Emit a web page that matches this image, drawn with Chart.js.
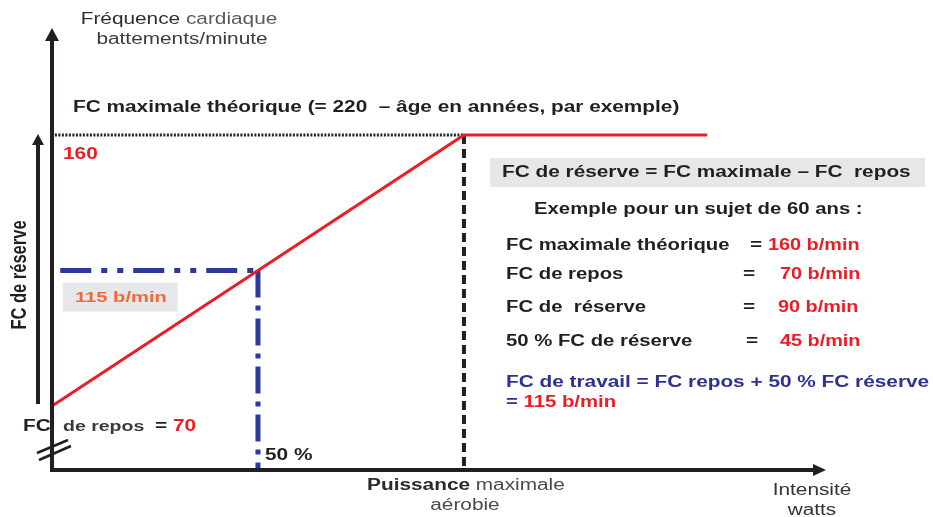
<!DOCTYPE html>
<html lang="fr">
<head>
<meta charset="utf-8">
<title>Fréquence cardiaque de travail</title>
<script src="https://cdn.jsdelivr.net/npm/chart.js@4/dist/chart.umd.min.js"></script>
<style>
  html, body { margin: 0; padding: 0; background: #ffffff; }
  #wrap { width: 933px; height: 517px; }
</style>
</head>
<body>
<div id="wrap"><canvas id="c" width="933" height="517"></canvas></div>
<script>
// Intensité d'effort (% de la puissance maximale aérobie) et fréquence cardiaque (b/min)
const intensite = [0, 100, 159];
const frequence = [70, 160, 160];

// Repères de l'exemple (sujet de 60 ans)
const fcRepos = 70;
const fcMax = 160;
const fcTravail = 115;
const pctReserve = 50;
const pma = 100;

// Tableau de l'exemple
const exempleLibelles = ['FC maximale théorique', 'FC de repos', 'FC de  réserve', '50 % FC de réserve'];
const exempleValeurs = [160, 70, 90, 45];

// Bornes des axes (l'axe vertical est interrompu sous la FC de repos)
const xMin = 0, xMax = 187.4;
const yMin = 48.75, yMax = 194.9;

const RED = '#ec1c24';
const BLUE = '#2b3a9a';
const BLUE_TXT = '#2e3192';
const INK = '#231f20';
const SX = 1.3; // étirement horizontal du lettrage
const F = '"Liberation Sans", Arial, Helvetica, sans-serif';

function pts(xs, ys) { return xs.map((x, i) => ({ x, y: ys[i] })); }

function drawText(ctx, s, x, y, font, color, align, sx) {
  sx = sx || SX;
  ctx.save();
  ctx.font = font;
  ctx.fillStyle = color;
  ctx.textBaseline = 'middle';
  ctx.textAlign = 'left';
  const w = ctx.measureText(s).width * sx;
  let x0 = x;
  if (align === 'center') x0 = x - w / 2;
  else if (align === 'right') x0 = x - w;
  ctx.translate(x0, y);
  ctx.scale(sx, 1);
  ctx.fillText(s, 0, 0);
  ctx.restore();
  return x0 + w;
}

function drawRuns(ctx, runs, x, y, align, sx) {
  sx = sx || SX;
  let total = 0;
  runs.forEach(r => { ctx.font = r[1]; total += ctx.measureText(r[0]).width * sx; });
  let cx = align === 'center' ? x - total / 2 : x;
  runs.forEach(r => { cx = drawText(ctx, r[0], cx, y, r[1], r[2], 'left', sx); });
}

function arrowHead(ctx, tipX, tipY, dir, len, half) {
  ctx.beginPath();
  if (dir === 'up') {
    ctx.moveTo(tipX, tipY);
    ctx.lineTo(tipX - half, tipY + len);
    ctx.lineTo(tipX + half, tipY + len);
  } else {
    ctx.moveTo(tipX, tipY);
    ctx.lineTo(tipX - len, tipY - half);
    ctx.lineTo(tipX - len, tipY + half);
  }
  ctx.closePath();
  ctx.fill();
}

const schema = {
  id: 'schema',
  beforeDatasetsDraw(chart) {
    const ctx = chart.ctx;
    const sx = chart.scales.x, sy = chart.scales.y;
    ctx.save();
    ctx.fillStyle = '#e6e7e8';
    // encadré de la FC de travail, sous la ligne de 115 b/min
    const yT = sy.getPixelForValue(fcTravail);
    ctx.fillRect(sx.getPixelForValue(2.6), yT + 12, 115, 29);
    // encadré de la définition de la réserve
    ctx.fillRect(490, 158, 435, 29);
    ctx.restore();
  },
  afterDraw(chart) {
    const ctx = chart.ctx;
    const sx = chart.scales.x, sy = chart.scales.y;
    const a = chart.chartArea;
    const x0 = sx.getPixelForValue(0);
    const yBase = sy.getPixelForValue(yMin);

    ctx.save();
    ctx.strokeStyle = INK;
    ctx.fillStyle = INK;
    ctx.lineCap = 'butt';

    // axe vertical (fréquence cardiaque)
    ctx.lineWidth = 4;
    ctx.beginPath();
    ctx.moveTo(x0, yBase + 2);
    ctx.lineTo(x0, a.top + 10);
    ctx.stroke();
    arrowHead(ctx, x0, a.top - 2, 'up', 13, 7);

    // axe horizontal (intensité)
    ctx.beginPath();
    ctx.moveTo(x0 - 2, yBase);
    ctx.lineTo(a.right - 10, yBase);
    ctx.stroke();
    arrowHead(ctx, a.right + 2, yBase, 'right', 13, 6);

    // flèche de la FC de réserve, de la FC de repos à la FC maximale
    const xr = x0 - 14;
    ctx.lineWidth = 4;
    ctx.beginPath();
    ctx.moveTo(xr, sy.getPixelForValue(fcRepos) - 2);
    ctx.lineTo(xr, sy.getPixelForValue(fcMax) + 10);
    ctx.stroke();
    arrowHead(ctx, xr, sy.getPixelForValue(fcMax) - 1, 'up', 11, 6);

    // marque d'interruption de l'axe vertical
    ctx.lineWidth = 2.5;
    ctx.beginPath();
    ctx.moveTo(x0 - 15, 453); ctx.lineTo(x0 + 16, 440);
    ctx.moveTo(x0 - 13, 460); ctx.lineTo(x0 + 19, 446);
    ctx.stroke();
    ctx.restore();

    // textes des axes
    const B16 = 'bold 16px ' + F, R16 = '16px ' + F;
    drawRuns(ctx, [['Fréquence ', R16, '#2e2e2e'], ['cardiaque', R16, '#5a5a5a']], 179, 20, 'center');
    drawText(ctx, 'battements/minute', 182, 40, R16, '#3c3c3c', 'center');
    drawText(ctx, 'FC maximale théorique (= 220  – âge en années, par exemple)', 73, 108, B16, INK);
    drawText(ctx, String(fcMax), 63, sy.getPixelForValue(fcMax) + 20, B16, RED);

    // titre vertical de la réserve
    ctx.save();
    ctx.font = 'bold 16.5px ' + F;
    ctx.fillStyle = INK;
    ctx.textAlign = 'center';
    ctx.textBaseline = 'middle';
    ctx.translate(20, 275);
    ctx.scale(SX, 1);
    ctx.rotate(-Math.PI / 2);
    ctx.fillText('FC de réserve', 0, 0);
    ctx.restore();

    drawText(ctx, fcTravail + ' b/min', 75, sy.getPixelForValue(fcTravail) + 27, 'bold 15.5px ' + F, '#ee6a3c');

    const yRep = sy.getPixelForValue(fcRepos) + 21;
    drawText(ctx, 'FC', 23, yRep, B16, INK);
    drawText(ctx, 'de repos', 63, yRep, 'bold 15px ' + F, '#3a3a3a');
    drawText(ctx, '=', 155, yRep, B16, INK);
    drawText(ctx, String(fcRepos), 173, yRep, B16, RED);

    drawText(ctx, pctReserve + ' %', sx.getPixelForValue(pctReserve) + 7, 456, B16, INK);

    const xP = sx.getPixelForValue(pma);
    drawRuns(ctx, [['Puissance ', B16, '#2a2a2a'], ['maximale', R16, '#4a4a4a']], xP + 2, 486, 'center');
    drawText(ctx, 'aérobie', xP + 1, 506, R16, '#4a4a4a', 'center');
    drawText(ctx, 'Intensité', 812, 491, R16, '#333333', 'center');
    drawText(ctx, 'watts', 812, 511, R16, '#333333', 'center');

    // encadré de droite : définition et exemple
    drawText(ctx, 'FC de réserve = FC maximale – FC  repos', 502, 173, B16, INK);
    drawText(ctx, 'Exemple pour un sujet de 60 ans :', 534, 210, B16, INK, 'left', 1.27);
    const rowsY = [246, 275, 308, 342];
    const eqX = [750, 743, 743, 746];
    const valX = [768, 780, 778, 780];
    exempleLibelles.forEach((lib, i) => {
      drawText(ctx, lib, 506, rowsY[i], B16, INK, 'left', 1.27);
      drawText(ctx, '=', eqX[i], rowsY[i], B16, INK);
      drawText(ctx, exempleValeurs[i] + ' b/min', valX[i], rowsY[i], B16, RED, 'left', 1.24);
    });
    drawText(ctx, 'FC de travail = FC repos + 50 % FC réserve', 506, 383, B16, BLUE_TXT);
    drawRuns(ctx, [['= ', B16, BLUE_TXT], [fcTravail + ' b/min', B16, RED]], 506, 403, 'left', 1.27);
  }
};

new Chart(document.getElementById('c'), {
  type: 'line',
  data: {
    datasets: [
      {
        label: 'Fréquence cardiaque',
        data: pts(intensite, frequence),
        borderColor: RED,
        borderWidth: 3,
        pointRadius: 0,
        tension: 0
      },
      {
        label: 'FC maximale théorique',
        data: pts([0.7, pma], [fcMax, fcMax]),
        borderColor: INK,
        borderWidth: 3,
        borderDash: [2, 1.5],
        pointRadius: 0
      },
      {
        label: 'Puissance maximale aérobie',
        data: pts([pma, pma], [fcMax, yMin]),
        borderColor: INK,
        borderWidth: 4,
        borderDash: [9, 5],
        pointRadius: 0
      },
      {
        label: 'FC de travail',
        data: pts([2, pctReserve], [fcTravail, fcTravail]),
        borderColor: BLUE,
        borderWidth: 5,
        borderDash: [31, 10, 6, 10, 6, 10],
        borderCapStyle: 'butt',
        pointRadius: 0
      },
      {
        label: '50 % de la réserve',
        data: pts([pctReserve, pctReserve], [fcTravail, yMin]),
        borderColor: BLUE,
        borderWidth: 5,
        borderDash: [27, 8, 5, 8],
        borderCapStyle: 'butt',
        pointRadius: 0
      }
    ]
  },
  options: {
    responsive: false,
    animation: false,
    events: [],
    layout: { padding: { left: 52, right: 109, top: 30, bottom: 47 } },
    plugins: { legend: { display: false }, tooltip: { enabled: false }, title: { display: false } },
    scales: {
      x: { type: 'linear', min: xMin, max: xMax, display: false },
      y: { type: 'linear', min: yMin, max: yMax, display: false }
    }
  },
  plugins: [schema]
});
</script>
</body>
</html>
